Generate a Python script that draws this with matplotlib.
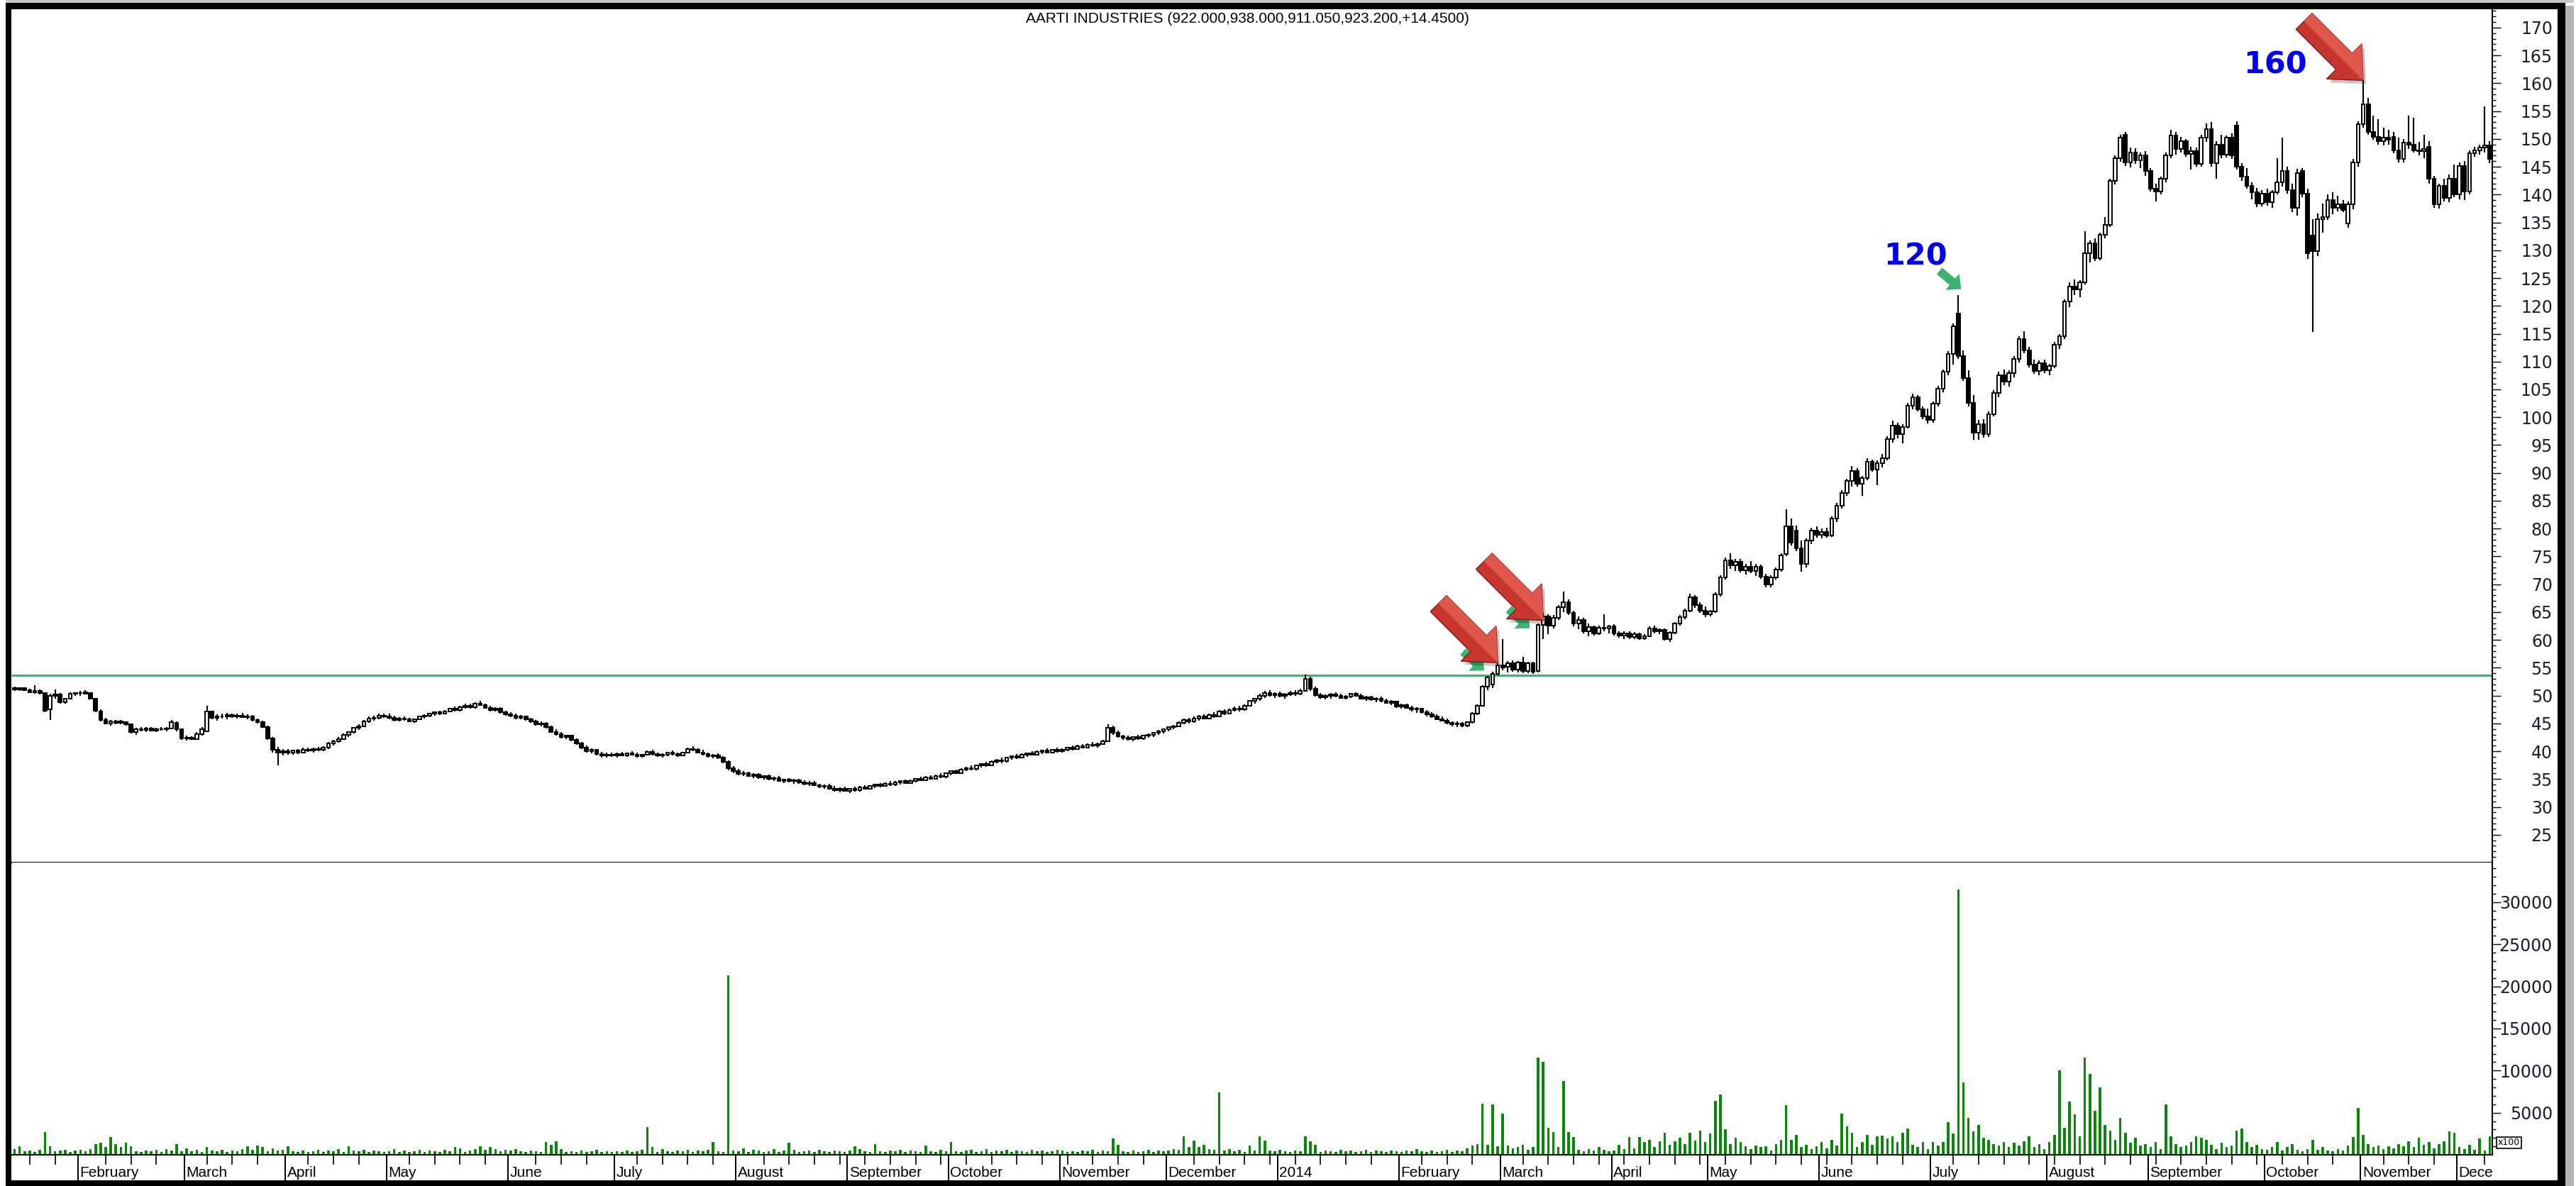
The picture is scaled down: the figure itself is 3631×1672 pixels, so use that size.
import numpy as np
import matplotlib
matplotlib.use("Agg")
import matplotlib.pyplot as plt
from matplotlib.patches import Polygon, Rectangle
from matplotlib.lines import Line2D
from matplotlib.transforms import IdentityTransform, Bbox, blended_transform_factory
from matplotlib.ticker import FixedLocator, FormatStrFormatter

# ------------------------------------------------------------------ data
title_text = "AARTI INDUSTRIES (922.000,938.000,911.050,923.200,+14.4500)"

month_labels = ["", "February", "March", "April", "May", "June", "July", "August",
                "September", "October", "November", "December", "2014", "February",
                "March", "April", "May", "June", "July", "August", "September",
                "October", "November", "December"]
month_bar_counts = [13, 21, 20, 20, 24, 21, 24, 22, 20, 22, 21, 22, 24, 20, 22, 19,
                    22, 22, 23, 20, 23, 19, 19, 7]

opens = [
    51.3, 51.1, 51.3, 51.0, 50.6, 50.9, 50.4, 47.5, 49.9, 50.2, 48.8, 49.4, 50.3,
    50.4, 50.6, 50.5, 49.4, 47.2, 45.6, 45.0, 45.3, 45.1, 45.2, 44.8, 43.4, 44.0, 43.8, 44.1, 43.7, 44.0, 43.9, 44.1, 45.1, 43.9,
    42.3, 42.4, 42.2, 43.1, 43.6, 47.1, 46.0, 46.3, 46.2, 46.5, 46.2, 46.4, 46.1, 46.3, 45.6, 45.2, 44.4, 42.3, 40.2, 39.7,
    40.0, 39.7, 40.1, 39.8, 40.3, 40.1, 40.4, 40.2, 40.6, 41.4, 41.8, 42.2, 43.0, 43.4, 44.2, 44.5, 45.4, 45.9, 46.0, 46.4,
    46.3, 46.0, 45.6, 45.9, 45.7, 45.4, 45.8, 46.2, 46.4, 46.7, 47.0, 46.8, 47.2, 47.6, 47.4, 47.9, 48.2, 47.9, 48.5, 48.3, 47.8, 47.4, 47.7, 47.0,
    46.6, 46.4, 46.0, 46.2, 45.7, 45.3, 44.8, 45.0, 44.3, 43.5, 43.1, 42.6, 42.8, 42.0, 41.4, 40.6, 40.0, 40.2, 39.5, 39.2, 39.4,
    39.3, 39.5, 39.3, 39.6, 39.4, 39.1, 39.4, 39.9, 39.5, 39.2, 39.4, 39.7, 39.5, 39.3, 39.8, 40.4, 40.2, 39.8, 39.5, 39.1, 39.3, 38.8, 38.1, 36.9,
    36.4, 35.9, 36.1, 35.6, 35.8, 35.3, 35.5, 35.0, 35.2, 34.7, 34.9, 34.6, 34.8, 34.4, 34.1, 34.3, 33.9, 33.6, 33.8, 33.3, 33.0, 33.2,
    32.9, 33.2, 33.0, 33.5, 33.3, 33.7, 34.0, 33.8, 34.2, 34.0, 34.4, 34.6, 34.3, 34.7, 35.0, 34.8, 35.3, 35.1, 35.6, 35.4,
    36.0, 36.4, 36.1, 36.7, 37.0, 36.8, 37.4, 37.7, 37.5, 38.1, 38.4, 38.2, 38.8, 39.1, 38.9, 39.4, 39.6, 39.4, 39.9, 40.1, 39.8, 40.2,
    40.0, 40.3, 40.6, 40.4, 40.9, 40.7, 41.2, 41.0, 41.3, 41.8, 44.2, 43.3, 42.7, 42.4, 42.2, 42.5, 42.3, 42.8, 43.0, 43.3, 43.6,
    43.9, 44.3, 44.5, 45.1, 45.6, 45.3, 45.9, 46.2, 45.9, 46.5, 46.3, 47.1, 46.8, 47.4, 47.7, 47.5, 48.2, 49.0, 49.4, 50.0, 50.5, 50.1,
    50.3, 49.9, 50.2, 50.5, 50.3, 50.9, 53.0, 51.2, 50.1, 49.7, 49.9, 50.2, 49.9, 49.6, 49.8, 50.3, 50.0, 49.5, 49.7, 49.3, 49.5, 49.0, 48.7, 48.9,
    48.0, 48.3, 47.8, 47.5, 47.6, 47.0, 46.6, 46.3, 45.8, 45.5, 45.1, 44.8, 45.0, 44.6, 45.2, 46.8, 48.2, 51.6, 52.0, 53.9,
    55.4, 55.2, 55.8, 54.6, 55.9, 54.4, 55.8, 54.4, 62.7, 64.2, 62.6, 64.0, 65.9, 66.8, 64.8, 62.9, 63.6, 61.6, 62.3, 61.2, 62.2, 62.0,
    62.4, 61.1, 60.8, 61.2, 60.5, 61.0, 60.3, 60.7, 62.0, 61.5, 61.8, 60.2, 61.3, 62.9, 64.1, 65.3, 67.7, 66.2, 65.3,
    64.6, 65.1, 68.2, 71.2, 74.3, 73.4, 74.0, 72.5, 73.2, 72.4, 73.1, 71.4, 69.9, 71.2, 72.6, 75.4, 80.4, 79.6, 76.4, 73.6, 77.8, 79.6,
    78.9, 79.4, 78.8, 81.8, 84.1, 86.4, 88.6, 90.4, 88.1, 89.1, 92.0, 90.6, 91.8, 92.6, 96.1, 98.5, 97.0, 98.3, 102.1, 103.6, 101.4, 100.2,
    99.5, 102.4, 105.1, 108.2, 111.4, 118.6, 111.0, 107.0, 102.6, 97.2, 98.8, 97.0, 100.6, 104.4, 107.6, 106.4, 107.9, 110.5, 114.0, 112.0, 109.5, 108.3, 109.7,
    108.5, 109.2, 113.0, 114.6, 120.8, 123.5, 123.0, 124.2, 129.5, 131.2, 128.6, 132.8, 134.6, 142.4, 146.6, 150.7, 145.8, 147.6, 146.2, 147.1,
    144.2, 141.0, 140.5, 142.8, 147.0, 150.6, 148.2, 149.6, 147.3, 147.8, 145.5, 150.2, 151.8, 145.6, 149.0, 147.2, 150.2, 152.4, 145.0, 143.2, 141.6, 140.4, 138.4,
    140.2, 138.6, 140.4, 142.2, 144.3, 140.8, 137.6, 144.2, 140.2, 132.6, 129.8, 135.6, 136.0, 139.0, 137.6, 138.2, 134.8, 138.3, 145.8,
    152.6, 156.2, 151.2, 150.4, 149.6, 150.2, 150.3, 147.9, 146.4, 149.4, 149.0, 148.0, 147.8, 148.6, 142.8, 138.2, 141.6, 139.4, 142.8,
    140.0, 145.2, 140.6, 147.4, 148.0, 148.4, 148.8,
]

highs = [
    51.6, 51.5, 51.5, 51.2, 51.9, 51.1, 50.6, 50.3, 51.1, 50.4, 49.6, 50.6, 50.6,
    50.8, 51.0, 50.6, 49.6, 47.5, 46.0, 45.6, 45.6, 45.6, 45.4, 45.0, 44.2, 44.4, 44.3, 44.4, 44.2, 44.3, 44.4, 45.6, 45.4, 44.0,
    42.8, 42.7, 43.4, 44.3, 48.2, 47.3, 46.6, 46.8, 46.9, 46.8, 46.7, 46.9, 46.6, 46.5, 45.9, 45.5, 44.6, 42.6, 40.8, 40.4,
    40.4, 40.3, 40.4, 40.6, 40.7, 40.6, 40.8, 40.9, 41.6, 42.0, 42.5, 43.2, 43.6, 44.4, 44.8, 45.6, 46.2, 46.4, 46.7, 46.8,
    46.7, 46.4, 46.1, 46.3, 46.0, 45.9, 46.4, 46.6, 46.9, 47.2, 47.3, 47.4, 47.8, 48.0, 48.1, 48.5, 48.6, 48.8, 49.0, 48.6, 48.1, 47.9, 47.9, 47.3,
    47.0, 46.7, 46.5, 46.4, 46.0, 45.6, 45.3, 45.2, 44.6, 43.9, 43.4, 43.0, 43.0, 42.3, 41.7, 41.0, 40.5, 40.4, 39.9, 39.7, 39.8,
    39.7, 39.9, 39.8, 40.0, 39.7, 39.5, 40.1, 40.2, 39.8, 39.6, 39.9, 40.1, 39.8, 39.9, 40.6, 40.9, 40.5, 40.2, 39.8, 39.5, 39.6, 39.1, 38.4, 37.3,
    36.8, 36.4, 36.3, 36.0, 36.1, 35.7, 35.8, 35.4, 35.5, 35.1, 35.2, 35.0, 35.1, 34.8, 34.6, 34.6, 34.2, 34.0, 34.1, 33.7, 33.5, 33.6,
    33.4, 33.6, 33.7, 33.9, 33.9, 34.2, 34.3, 34.4, 34.6, 34.6, 34.8, 34.9, 34.9, 35.2, 35.4, 35.5, 35.7, 35.8, 36.0, 36.2,
    36.6, 36.7, 36.9, 37.2, 37.4, 37.6, 37.9, 38.1, 38.3, 38.6, 38.8, 39.0, 39.3, 39.5, 39.6, 39.8, 40.0, 40.1, 40.3, 40.5, 40.4, 40.6,
    40.5, 40.8, 41.0, 41.1, 41.3, 41.4, 41.6, 41.5, 42.0, 44.8, 44.6, 43.7, 43.0, 42.8, 42.7, 42.9, 43.0, 43.2, 43.5, 43.8, 44.1,
    44.5, 44.7, 45.3, 45.9, 46.0, 46.2, 46.5, 46.6, 46.8, 47.0, 47.4, 47.5, 47.6, 48.0, 48.2, 48.4, 49.2, 49.6, 50.3, 50.8, 51.0, 50.6,
    50.7, 50.4, 50.8, 51.0, 51.2, 53.8, 53.4, 51.6, 50.5, 50.2, 50.4, 50.6, 50.3, 50.1, 50.5, 50.6, 50.3, 49.9, 50.0, 49.7, 49.8, 49.4, 49.2, 49.1,
    48.6, 48.6, 48.2, 47.9, 47.8, 47.4, 47.0, 46.6, 46.2, 45.9, 45.4, 45.3, 45.2, 45.4, 47.0, 48.4, 51.8, 53.5, 54.3, 55.9,
    60.2, 56.2, 56.3, 56.2, 57.0, 56.1, 56.0, 63.0, 64.8, 64.6, 64.5, 66.2, 68.7, 67.3, 65.2, 64.2, 64.0, 62.9, 62.6, 62.6, 64.6, 62.7,
    62.8, 61.6, 61.5, 61.5, 61.4, 61.3, 61.0, 62.4, 62.6, 62.1, 62.0, 61.6, 63.2, 64.5, 65.6, 68.3, 68.1, 66.8, 66.0,
    65.4, 68.5, 71.6, 74.8, 75.6, 74.5, 74.6, 73.6, 74.1, 73.6, 73.5, 71.9, 71.6, 73.0, 75.6, 83.5, 81.8, 80.5, 77.8, 78.2, 80.2, 80.4,
    80.0, 80.2, 82.2, 84.6, 86.9, 89.0, 91.2, 90.8, 89.5, 92.6, 92.4, 92.3, 93.4, 96.6, 99.4, 99.0, 98.8, 102.6, 104.2, 104.0, 101.9, 101.6,
    102.8, 105.6, 108.6, 111.9, 116.8, 122.0, 112.0, 108.5, 104.0, 99.5, 99.6, 101.0, 104.9, 108.2, 108.6, 108.5, 111.0, 114.6, 115.5, 112.6, 110.4, 110.2, 110.3,
    109.6, 113.5, 115.0, 121.2, 124.2, 124.8, 124.6, 133.4, 131.8, 132.2, 133.2, 136.0, 142.9, 147.0, 150.8, 151.3, 148.4, 148.3, 147.5, 147.8,
    144.8, 142.0, 143.2, 147.5, 151.6, 151.2, 150.3, 150.0, 148.6, 148.4, 150.8, 152.8, 153.0, 149.6, 150.8, 150.6, 151.0, 153.2, 145.6, 144.8, 142.2, 141.2, 140.8,
    141.0, 140.8, 146.5, 150.2, 145.0, 142.0, 144.6, 144.8, 141.0, 135.6, 136.6, 138.4, 140.0, 140.4, 139.8, 139.0, 138.8, 146.4, 153.2,
    160.5, 157.4, 154.2, 153.6, 152.0, 151.6, 151.2, 150.2, 150.0, 154.2, 153.8, 149.5, 150.8, 149.6, 143.4, 142.0, 142.8, 143.6, 145.4,
    145.8, 146.0, 147.9, 148.6, 149.0, 155.8, 149.6,
]

lows = [
    50.9, 50.8, 50.9, 50.4, 50.3, 50.2, 47.0, 45.6, 49.4, 48.6, 48.6, 49.3, 49.9,
    50.0, 50.2, 49.3, 47.0, 45.4, 44.8, 44.6, 44.9, 44.8, 44.6, 43.2, 42.9, 43.6, 43.5, 43.6, 43.4, 43.7, 43.6, 43.9, 43.6, 42.0,
    41.9, 42.0, 42.0, 42.8, 43.4, 45.8, 45.5, 45.9, 45.8, 46.0, 45.9, 46.0, 45.8, 45.4, 45.0, 44.2, 42.0, 39.8, 37.5, 39.3,
    39.4, 39.4, 39.5, 39.6, 39.9, 39.8, 40.0, 40.0, 40.4, 41.0, 41.5, 42.0, 42.6, 43.2, 43.8, 44.3, 45.1, 45.5, 45.7, 46.0,
    45.8, 45.4, 45.3, 45.5, 45.2, 45.1, 45.6, 45.9, 46.1, 46.4, 46.5, 46.6, 47.0, 47.2, 47.2, 47.6, 47.7, 47.7, 48.1, 47.6, 47.2, 47.1, 46.8, 46.4,
    46.1, 45.8, 45.7, 45.5, 45.1, 44.6, 44.5, 44.1, 43.3, 42.8, 42.3, 42.2, 41.8, 41.2, 40.4, 39.8, 39.6, 39.3, 38.9, 38.8, 39.0,
    38.9, 39.1, 39.0, 39.2, 38.9, 38.8, 39.2, 39.3, 39.0, 38.9, 39.1, 39.3, 39.0, 39.1, 39.6, 40.0, 39.6, 39.3, 38.9, 38.7, 38.6, 37.9, 36.6, 36.1,
    35.7, 35.6, 35.4, 35.2, 35.1, 34.9, 34.8, 34.6, 34.5, 34.3, 34.4, 34.2, 34.2, 33.9, 33.8, 33.7, 33.4, 33.2, 33.1, 32.8, 32.6, 32.7,
    32.5, 32.8, 32.8, 33.1, 33.1, 33.4, 33.5, 33.6, 33.8, 33.8, 34.0, 34.1, 34.1, 34.4, 34.6, 34.6, 34.9, 34.9, 35.2, 35.2,
    35.7, 35.9, 35.9, 36.4, 36.6, 36.6, 37.1, 37.2, 37.3, 37.8, 37.9, 38.0, 38.5, 38.6, 38.7, 39.0, 39.2, 39.2, 39.5, 39.6, 39.6, 39.8,
    39.7, 40.0, 40.1, 40.2, 40.5, 40.5, 40.8, 40.7, 41.1, 41.6, 43.0, 42.4, 42.1, 41.9, 41.8, 42.0, 42.1, 42.4, 42.6, 43.0, 43.2,
    43.6, 43.9, 44.3, 44.8, 45.0, 45.1, 45.5, 45.7, 45.7, 46.0, 46.1, 46.5, 46.6, 47.1, 47.2, 47.3, 48.0, 48.6, 49.1, 49.6, 49.8, 49.6,
    49.7, 49.5, 49.9, 50.0, 50.1, 50.7, 50.8, 49.8, 49.4, 49.3, 49.5, 49.7, 49.4, 49.3, 49.6, 49.8, 49.3, 49.0, 49.1, 48.8, 48.8, 48.5, 48.3, 47.8,
    47.6, 47.6, 47.2, 46.9, 46.8, 46.3, 46.0, 45.6, 45.3, 44.9, 44.5, 44.4, 44.3, 44.4, 45.0, 46.5, 48.0, 51.0, 51.4, 53.6,
    54.5, 54.2, 54.3, 54.2, 54.0, 54.0, 53.9, 54.2, 60.2, 61.0, 62.0, 63.6, 65.0, 64.5, 62.4, 61.9, 61.2, 60.6, 60.8, 60.9, 61.5, 61.2,
    60.8, 60.4, 60.2, 60.1, 60.2, 60.0, 60.0, 60.5, 61.1, 61.0, 59.9, 59.6, 61.0, 62.5, 63.7, 65.0, 65.8, 64.9, 64.1,
    64.2, 64.9, 67.8, 70.8, 72.8, 72.4, 72.1, 71.7, 72.0, 71.5, 71.0, 69.4, 69.5, 70.8, 72.3, 75.0, 77.0, 76.0, 72.3, 73.0, 77.2, 78.3,
    78.2, 78.4, 78.5, 81.2, 83.6, 85.9, 87.5, 87.6, 85.9, 88.7, 90.2, 87.8, 91.0, 92.2, 95.5, 96.2, 95.3, 98.0, 101.4, 101.0, 99.6, 98.9,
    99.0, 102.0, 104.5, 107.5, 109.5, 110.5, 106.5, 102.0, 96.0, 96.0, 96.3, 96.5, 100.1, 103.6, 105.8, 105.5, 107.2, 109.8, 111.5, 109.0, 107.8, 107.6, 107.9,
    107.6, 108.8, 112.2, 114.0, 119.8, 122.0, 121.5, 123.8, 127.8, 128.0, 128.2, 132.2, 134.2, 141.8, 145.9, 145.2, 144.9, 145.5, 144.8, 143.4,
    140.5, 138.8, 140.0, 142.2, 146.5, 147.2, 147.6, 146.8, 144.5, 145.0, 145.0, 149.5, 145.0, 142.8, 146.5, 146.7, 146.4, 144.5, 142.5, 141.0, 139.2, 137.8, 137.9,
    138.0, 137.6, 140.0, 141.4, 140.2, 136.8, 136.2, 139.5, 128.5, 115.3, 129.0, 133.2, 135.5, 136.5, 137.0, 136.8, 134.0, 137.4, 145.0,
    152.0, 150.8, 149.8, 148.9, 148.8, 149.0, 147.4, 145.8, 145.8, 148.2, 147.6, 147.0, 146.6, 142.0, 137.6, 137.5, 138.8, 138.6, 139.5,
    139.2, 139.0, 140.0, 146.8, 147.2, 147.6, 145.6,
]

closes = [
    51.1, 51.3, 51.0, 50.6, 50.9, 50.5, 47.3, 49.9, 50.2, 48.8, 49.4, 50.3, 50.4,
    50.5, 50.3, 49.4, 47.3, 45.6, 45.0, 45.3, 45.1, 45.3, 44.9, 43.4, 44.0, 43.8, 44.1, 43.7, 44.0, 43.9, 44.1, 45.2, 43.9, 42.3,
    42.4, 42.2, 43.1, 43.9, 47.1, 46.0, 46.3, 46.2, 46.5, 46.2, 46.4, 46.1, 46.3, 45.6, 45.2, 44.4, 42.3, 40.2, 39.7, 40.0,
    39.7, 40.1, 39.8, 40.3, 40.1, 40.4, 40.2, 40.6, 41.4, 41.8, 42.2, 43.0, 43.4, 44.2, 44.5, 45.4, 45.9, 46.0, 46.4, 46.3,
    46.0, 45.6, 45.9, 45.7, 45.4, 45.8, 46.2, 46.4, 46.7, 47.0, 46.8, 47.2, 47.6, 47.4, 47.9, 48.2, 47.9, 48.5, 48.3, 47.8, 47.4, 47.7, 47.0, 46.6,
    46.4, 46.0, 46.2, 45.7, 45.3, 44.8, 45.0, 44.3, 43.5, 43.1, 42.6, 42.8, 42.0, 41.4, 40.6, 40.0, 40.2, 39.5, 39.2, 39.4, 39.3,
    39.5, 39.3, 39.6, 39.4, 39.1, 39.4, 39.9, 39.5, 39.2, 39.4, 39.7, 39.5, 39.3, 39.8, 40.4, 40.2, 39.8, 39.5, 39.1, 39.3, 38.8, 38.1, 36.9, 36.4,
    35.9, 36.1, 35.6, 35.8, 35.3, 35.5, 35.0, 35.2, 34.7, 34.9, 34.6, 34.8, 34.4, 34.1, 34.3, 33.9, 33.6, 33.8, 33.3, 33.0, 33.2, 32.9,
    33.2, 33.0, 33.5, 33.3, 33.7, 34.0, 33.8, 34.2, 34.0, 34.4, 34.6, 34.3, 34.7, 35.0, 34.8, 35.3, 35.1, 35.6, 35.4, 36.0,
    36.4, 36.1, 36.7, 37.0, 36.8, 37.4, 37.7, 37.5, 38.1, 38.4, 38.2, 38.8, 39.1, 38.9, 39.4, 39.6, 39.4, 39.9, 40.1, 39.8, 40.2, 40.0,
    40.3, 40.6, 40.4, 40.9, 40.7, 41.2, 41.0, 41.3, 41.8, 44.2, 43.3, 42.7, 42.4, 42.2, 42.5, 42.3, 42.8, 43.0, 43.3, 43.6, 43.9,
    44.3, 44.5, 45.1, 45.6, 45.3, 45.9, 46.2, 45.9, 46.5, 46.3, 47.1, 46.8, 47.4, 47.7, 47.5, 48.2, 49.0, 49.4, 50.0, 50.5, 50.1, 50.3,
    49.9, 50.2, 50.5, 50.3, 50.9, 53.0, 51.2, 50.1, 49.7, 49.9, 50.2, 49.9, 49.6, 49.8, 50.3, 50.0, 49.5, 49.7, 49.3, 49.5, 49.0, 48.7, 48.9, 48.0,
    48.3, 47.8, 47.5, 47.6, 47.0, 46.6, 46.3, 45.8, 45.5, 45.1, 44.8, 45.0, 44.6, 45.2, 46.8, 48.2, 51.6, 53.2, 53.9, 55.4,
    55.0, 55.8, 54.6, 55.9, 54.4, 55.8, 54.3, 62.7, 64.2, 62.6, 64.0, 65.9, 66.8, 64.8, 62.9, 63.6, 61.6, 62.3, 61.2, 62.2, 62.0, 62.4,
    61.1, 60.8, 61.2, 60.5, 61.0, 60.3, 60.7, 62.0, 61.5, 61.8, 60.2, 61.3, 62.9, 64.1, 65.3, 67.7, 66.2, 65.3, 64.6,
    65.1, 68.2, 71.2, 74.3, 73.4, 74.0, 72.5, 73.2, 72.4, 73.1, 71.4, 69.9, 71.2, 72.6, 75.2, 80.4, 77.5, 76.4, 73.6, 77.8, 79.6, 78.9,
    79.4, 78.8, 81.8, 84.1, 86.4, 88.6, 90.4, 88.1, 89.1, 92.0, 90.6, 91.8, 92.6, 96.1, 98.5, 97.0, 98.3, 102.1, 103.6, 101.4, 100.2, 99.5,
    102.4, 105.1, 108.2, 111.4, 116.4, 111.0, 107.0, 102.6, 97.2, 98.8, 97.0, 100.6, 104.4, 107.6, 106.4, 107.9, 110.5, 114.0, 112.0, 109.5, 108.3, 109.7, 108.5,
    109.2, 113.0, 114.6, 120.8, 123.5, 123.0, 124.2, 129.5, 131.2, 128.6, 132.8, 134.6, 142.4, 146.6, 150.2, 145.8, 147.6, 146.2, 147.1, 144.2,
    141.0, 140.5, 142.8, 147.0, 150.6, 148.2, 149.6, 147.3, 147.8, 145.5, 150.2, 151.8, 145.6, 149.0, 147.2, 150.2, 147.0, 145.0, 143.2, 141.6, 140.4, 138.4, 140.2,
    138.6, 140.4, 142.2, 144.3, 140.8, 137.6, 143.8, 140.2, 129.4, 129.8, 135.6, 136.0, 139.0, 137.6, 138.2, 137.2, 138.3, 145.8, 152.6,
    156.2, 151.2, 150.4, 149.6, 150.2, 149.8, 147.9, 146.4, 149.4, 149.0, 148.0, 147.8, 148.2, 142.8, 138.2, 141.6, 139.4, 142.8, 140.0,
    145.2, 140.6, 147.4, 148.0, 148.4, 148.8, 146.4,
]

# volume in units of 100 shares (axis note "x100")
volumes = [
    700, 1000, 400, 500, 300, 600, 2700, 1000, 400, 500, 600, 300, 500,
    600, 400, 700, 1300, 1400, 900, 2100, 1300, 900, 1400, 1000, 400, 300, 500, 400, 600, 300, 700, 500, 1300, 400,
    800, 400, 600, 300, 900, 500, 400, 600, 300, 500, 400, 700, 1000, 600, 1100, 900, 400, 800, 500, 600,
    1000, 400, 300, 500, 300, 400, 600, 300, 500, 400, 700, 300, 1000, 500, 400, 600, 300, 500, 400, 300,
    400, 700, 300, 500, 300, 400, 600, 300, 500, 400, 300, 600, 400, 900, 800, 300, 500, 700, 1000, 600, 900, 700, 400, 600,
    500, 700, 400, 300, 500, 400, 300, 1500, 1200, 1600, 700, 300, 400, 300, 500, 300, 400, 600, 300, 400, 300,
    400, 300, 500, 300, 400, 600, 3300, 900, 300, 700, 400, 300, 500, 400, 600, 300, 500, 400, 600, 1500, 400, 300, 21300, 500,
    400, 800, 300, 600, 500, 300, 400, 700, 300, 500, 1400, 600, 300, 400, 500, 300, 600, 400, 300, 500, 400, 300,
    500, 1000, 700, 400, 300, 1300, 400, 300, 500, 400, 600, 300, 500, 400, 300, 1100, 400, 300, 600, 400,
    1500, 400, 300, 500, 600, 300, 400, 700, 300, 500, 400, 600, 300, 500, 400, 300, 600, 400, 500, 300, 400, 600,
    500, 300, 400, 300, 500, 400, 600, 300, 500, 400, 1900, 1200, 400, 300, 500, 300, 400, 600, 300, 500, 400,
    500, 700, 600, 2200, 900, 1700, 900, 1200, 700, 600, 7400, 500, 700, 400, 600, 300, 1100, 500, 2200, 1700, 500, 400,
    600, 400, 300, 500, 400, 2200, 1600, 1200, 300, 500, 400, 300, 600, 400, 500, 300, 400, 600, 300, 500, 400, 300, 500, 400,
    300, 500, 400, 700, 400, 300, 500, 300, 400, 600, 300, 500, 400, 800, 1100, 1300, 6100, 1200, 6000, 1000,
    4900, 1100, 800, 900, 1200, 600, 900, 11500, 11000, 3200, 2700, 900, 8800, 2700, 2100, 600, 400, 700, 500, 900, 600, 400,
    500, 1200, 700, 2100, 800, 2100, 1500, 1800, 900, 1600, 2600, 1200, 1600, 2000, 1300, 2600, 1700, 2900, 1500,
    2500, 6400, 7200, 3000, 1300, 2000, 1500, 1000, 700, 1100, 900, 1000, 500, 1300, 1800, 5900, 1800, 2400, 900, 1200, 700, 1000,
    1500, 800, 1800, 1100, 4900, 3400, 2600, 900, 1500, 2400, 1200, 2200, 2300, 1900, 2200, 1500, 2600, 3100, 1200, 900, 1500, 700,
    1500, 1100, 1500, 3900, 2500, 31500, 8600, 4400, 2800, 3500, 2000, 1800, 1300, 1100, 1500, 900, 1400, 1100, 1600, 2200, 900, 1300, 700,
    1500, 2400, 10000, 3200, 6300, 4800, 2200, 11500, 9600, 5200, 8000, 3500, 2900, 1800, 4400, 2600, 1400, 2000, 1100, 1300,
    900, 1500, 700, 6000, 2200, 1300, 900, 1100, 1500, 2200, 2000, 1800, 1200, 700, 1400, 900, 1100, 2900, 3100, 1500, 900, 1200, 700,
    600, 900, 1500, 500, 900, 1300, 600, 400, 700, 1800, 600, 900, 500, 400, 700, 500, 1100, 2100, 5600,
    2400, 1300, 900, 1100, 700, 1000, 800, 1300, 1000, 1600, 900, 2000, 1200, 1500, 800, 1300, 1600, 2800, 2600,
    900, 700, 1200, 600, 1900, 500, 2200,
]

support_level = 53.6
price_ticks = list(range(25, 171, 5))
volume_ticks = [5000, 10000, 15000, 20000, 25000, 30000]
# annotation anchors: (bar index, price)
red_arrow_points = [(293, 55.9), (302, 63.5), (464, 160.5)]
peak_labels = [("120", 384, 122.0), ("160", 464, 160.5)]

# ------------------------------------------------------------------ layout
W, H, DPI = 3631, 1672, 100
fig = plt.figure(figsize=(W / DPI, H / DPI), dpi=DPI)
fig.patch.set_facecolor("white")

L, R = 17, 3513          # plot area in image pixels
PT, PB, VB = 13, 1216, 1628

ax = fig.add_axes([L / W, 1 - PB / H, (R - L) / W, (PB - PT) / H])
axv = fig.add_axes([L / W, 1 - VB / H, (R - L) / W, (VB - PB) / H], sharex=ax)

o = np.array(opens, float); h = np.array(highs, float)
l = np.array(lows, float); c = np.array(closes, float)
v = np.array(volumes, float)
n = min(len(o), len(h), len(l), len(c), len(v))
o, h, l, c, v = o[:n], h[:n], l[:n], c[:n], v[:n]
x = np.arange(n)
up = c >= o

# candles
ax.vlines(x, l, h, color="black", lw=1.5, zorder=2)
ax.bar(x[up], (c - o)[up], bottom=o[up], width=0.66, facecolor="white",
       edgecolor="black", linewidth=1.4, zorder=3)
ax.bar(x[~up], (o - c)[~up], bottom=c[~up], width=0.66, facecolor="black",
       edgecolor="black", linewidth=1.4, zorder=3)
ax.axhline(support_level, color="#3cb371", lw=2.3, zorder=1)

ax.set_xlim(-0.5, n - 0.5)
ax.set_ylim(20.0, 173.3)

# volume
axv.bar(x, v, width=0.5, color="#0a870a", linewidth=0)
axv.set_ylim(0, 34700)

for a in (ax, axv):
    a.set_facecolor("white")
    a.spines["left"].set_visible(False)
    a.spines["top"].set_visible(False)
    a.spines["right"].set_linewidth(1.5)
    a.spines["bottom"].set_linewidth(1.4)
    a.yaxis.tick_right()
    a.tick_params(axis="x", which="both", bottom=False, top=False,
                  labelbottom=False)

label_pad = (3598 - R - 12) * 72 / DPI
ax.yaxis.set_major_locator(FixedLocator(price_ticks))
ax.yaxis.set_minor_locator(FixedLocator(np.arange(21, 174, 1)))
ax.yaxis.set_major_formatter(FormatStrFormatter("%d"))
axv.yaxis.set_major_locator(FixedLocator(volume_ticks))
axv.yaxis.set_minor_locator(FixedLocator(np.arange(1000, 34001, 1000)))
axv.yaxis.set_major_formatter(FormatStrFormatter("%d"))
for a in (ax, axv):
    a.tick_params(axis="y", which="major", direction="out", length=8.6,
                  width=1.0, labelsize=17, pad=label_pad, labelcolor="#1c1c2a")
    a.tick_params(axis="y", which="minor", direction="out", length=3.8, width=1.0)
    for t in a.get_yticklabels():
        t.set_horizontalalignment("right")
        t.set_fontfamily("DejaVu Sans")

# ------------------------------------------------------------------ x axis (months)
starts = np.concatenate([[0], np.cumsum(month_bar_counts)[:-1]])
bt = blended_transform_factory(axv.transData, IdentityTransform())
clip = Bbox.from_extents(0, 0, R, H)
for s, lab in zip(starts, month_labels):
    if s == 0:
        continue
    fig.add_artist(Line2D([s - 0.5, s - 0.5], [H - VB, H - 1664], transform=bt,
                          color="black", lw=1.4))
    t = fig.text(s - 0.5 + 0.35, H - 1659, lab, transform=bt, fontsize=15,
                 family=["Liberation Sans", "DejaVu Sans"], ha="left",
                 va="baseline", color="black")
    t.set_clip_on(True)
    t.set_clip_box(clip)
for wk in np.arange(3, n, 5):
    if np.min(np.abs(starts - 0.5 - wk)) < 1.2:
        continue
    fig.add_artist(Line2D([wk, wk], [H - VB, H - 1641], transform=bt,
                          color="black", lw=1.2))

# ------------------------------------------------------------------ annotations
def block_arrow(tip, length, shaft_hw, head_hw, head_len, angle_deg):
    ang = np.deg2rad(angle_deg)
    d = np.array([np.cos(ang), np.sin(ang)])
    nv = np.array([-d[1], d[0]])
    uv = [(0, 0), (-head_len, head_hw), (-head_len, shaft_hw), (-length, shaft_hw),
          (-length, -shaft_hw), (-head_len, -shaft_hw), (-head_len, -head_hw)]
    return np.array([tip + u * d + w * nv for u, w in uv])

def upper_half(tip, length, shaft_hw, head_hw, head_len, angle_deg):
    ang = np.deg2rad(angle_deg)
    d = np.array([np.cos(ang), np.sin(ang)])
    nv = np.array([-d[1], d[0]])
    uv = [(0, 0), (-head_len, head_hw), (-head_len, shaft_hw), (-length, shaft_hw),
          (-length, 0)]
    return np.array([tip + u * d + w * nv for u, w in uv])

def add_poly(pts, **kw):
    fig.add_artist(Polygon(pts, closed=True, transform=IdentityTransform(), **kw))

green = "#3cb371"
for i, (bx, py) in enumerate(red_arrow_points):
    tip = ax.transData.transform((bx, py))
    if i < 2:
        gtip = tip + np.array([-19.0, -11.0])
        add_poly(block_arrow(gtip, 40, 6, 15, 16, -42), facecolor=green,
                 edgecolor="none", zorder=4)
    geo = (118, 16, 35, 38, -45)
    add_poly(block_arrow(tip + np.array([4, -5]), *geo), facecolor="black",
             alpha=0.22, edgecolor="none", zorder=4)
    add_poly(block_arrow(tip, *geo), facecolor="#c8342e", edgecolor="#7e1b18",
             linewidth=1.0, zorder=5)
    add_poly(upper_half(tip, *geo), facecolor="#e0574e", edgecolor="none", zorder=5)

for txt, bx, py in peak_labels:
    tip = ax.transData.transform((bx, py))
    if txt == "120":
        gtip = tip + np.array([4.0, 8.0])
        add_poly(block_arrow(gtip, 40, 6, 15, 16, -40), facecolor=green,
                 edgecolor="none", zorder=4)
        pos = tip + np.array([-60.0, 54.0])
    else:
        pos = tip + np.array([-124.0, 22.0])
    fig.text(pos[0], pos[1], txt, transform=IdentityTransform(), fontsize=31,
             fontweight="bold", color="#0000ee", family="DejaVu Sans",
             ha="center", va="center")

# title
fig.text(1758 / W, 1 - 27 / H, title_text, fontsize=15,
         family=["Liberation Sans", "DejaVu Sans"], ha="center", va="center",
         color="black")

# x100 note
fig.text(3521, H - 1611, "x100", transform=IdentityTransform(), fontsize=9,
         family="DejaVu Sans", ha="left", va="center",
         bbox=dict(boxstyle="square,pad=0.15", fc="white", ec="black", lw=1.2))

# frame
frame_kw = dict(transform=IdentityTransform(), facecolor="black",
                edgecolor="none", zorder=10)
fig.add_artist(Rectangle((3616, 0), 12, H - 8, transform=IdentityTransform(),
                         facecolor="#b5b5b5", edgecolor="none", zorder=9))
fig.add_artist(Rectangle((8, H - 4), 3620, 4, transform=IdentityTransform(),
                         facecolor="#c8c8c8", edgecolor="none", zorder=9))
fig.add_artist(Rectangle((8, H - 13), 3608, 9, **frame_kw))
fig.add_artist(Rectangle((8, 0), 8, H - 4, **frame_kw))
fig.add_artist(Rectangle((8, 0), 3608, 8, **frame_kw))
fig.add_artist(Rectangle((3605, 0), 11, H - 4, **frame_kw))

fig.savefig("out.png", dpi=DPI, facecolor="white")
